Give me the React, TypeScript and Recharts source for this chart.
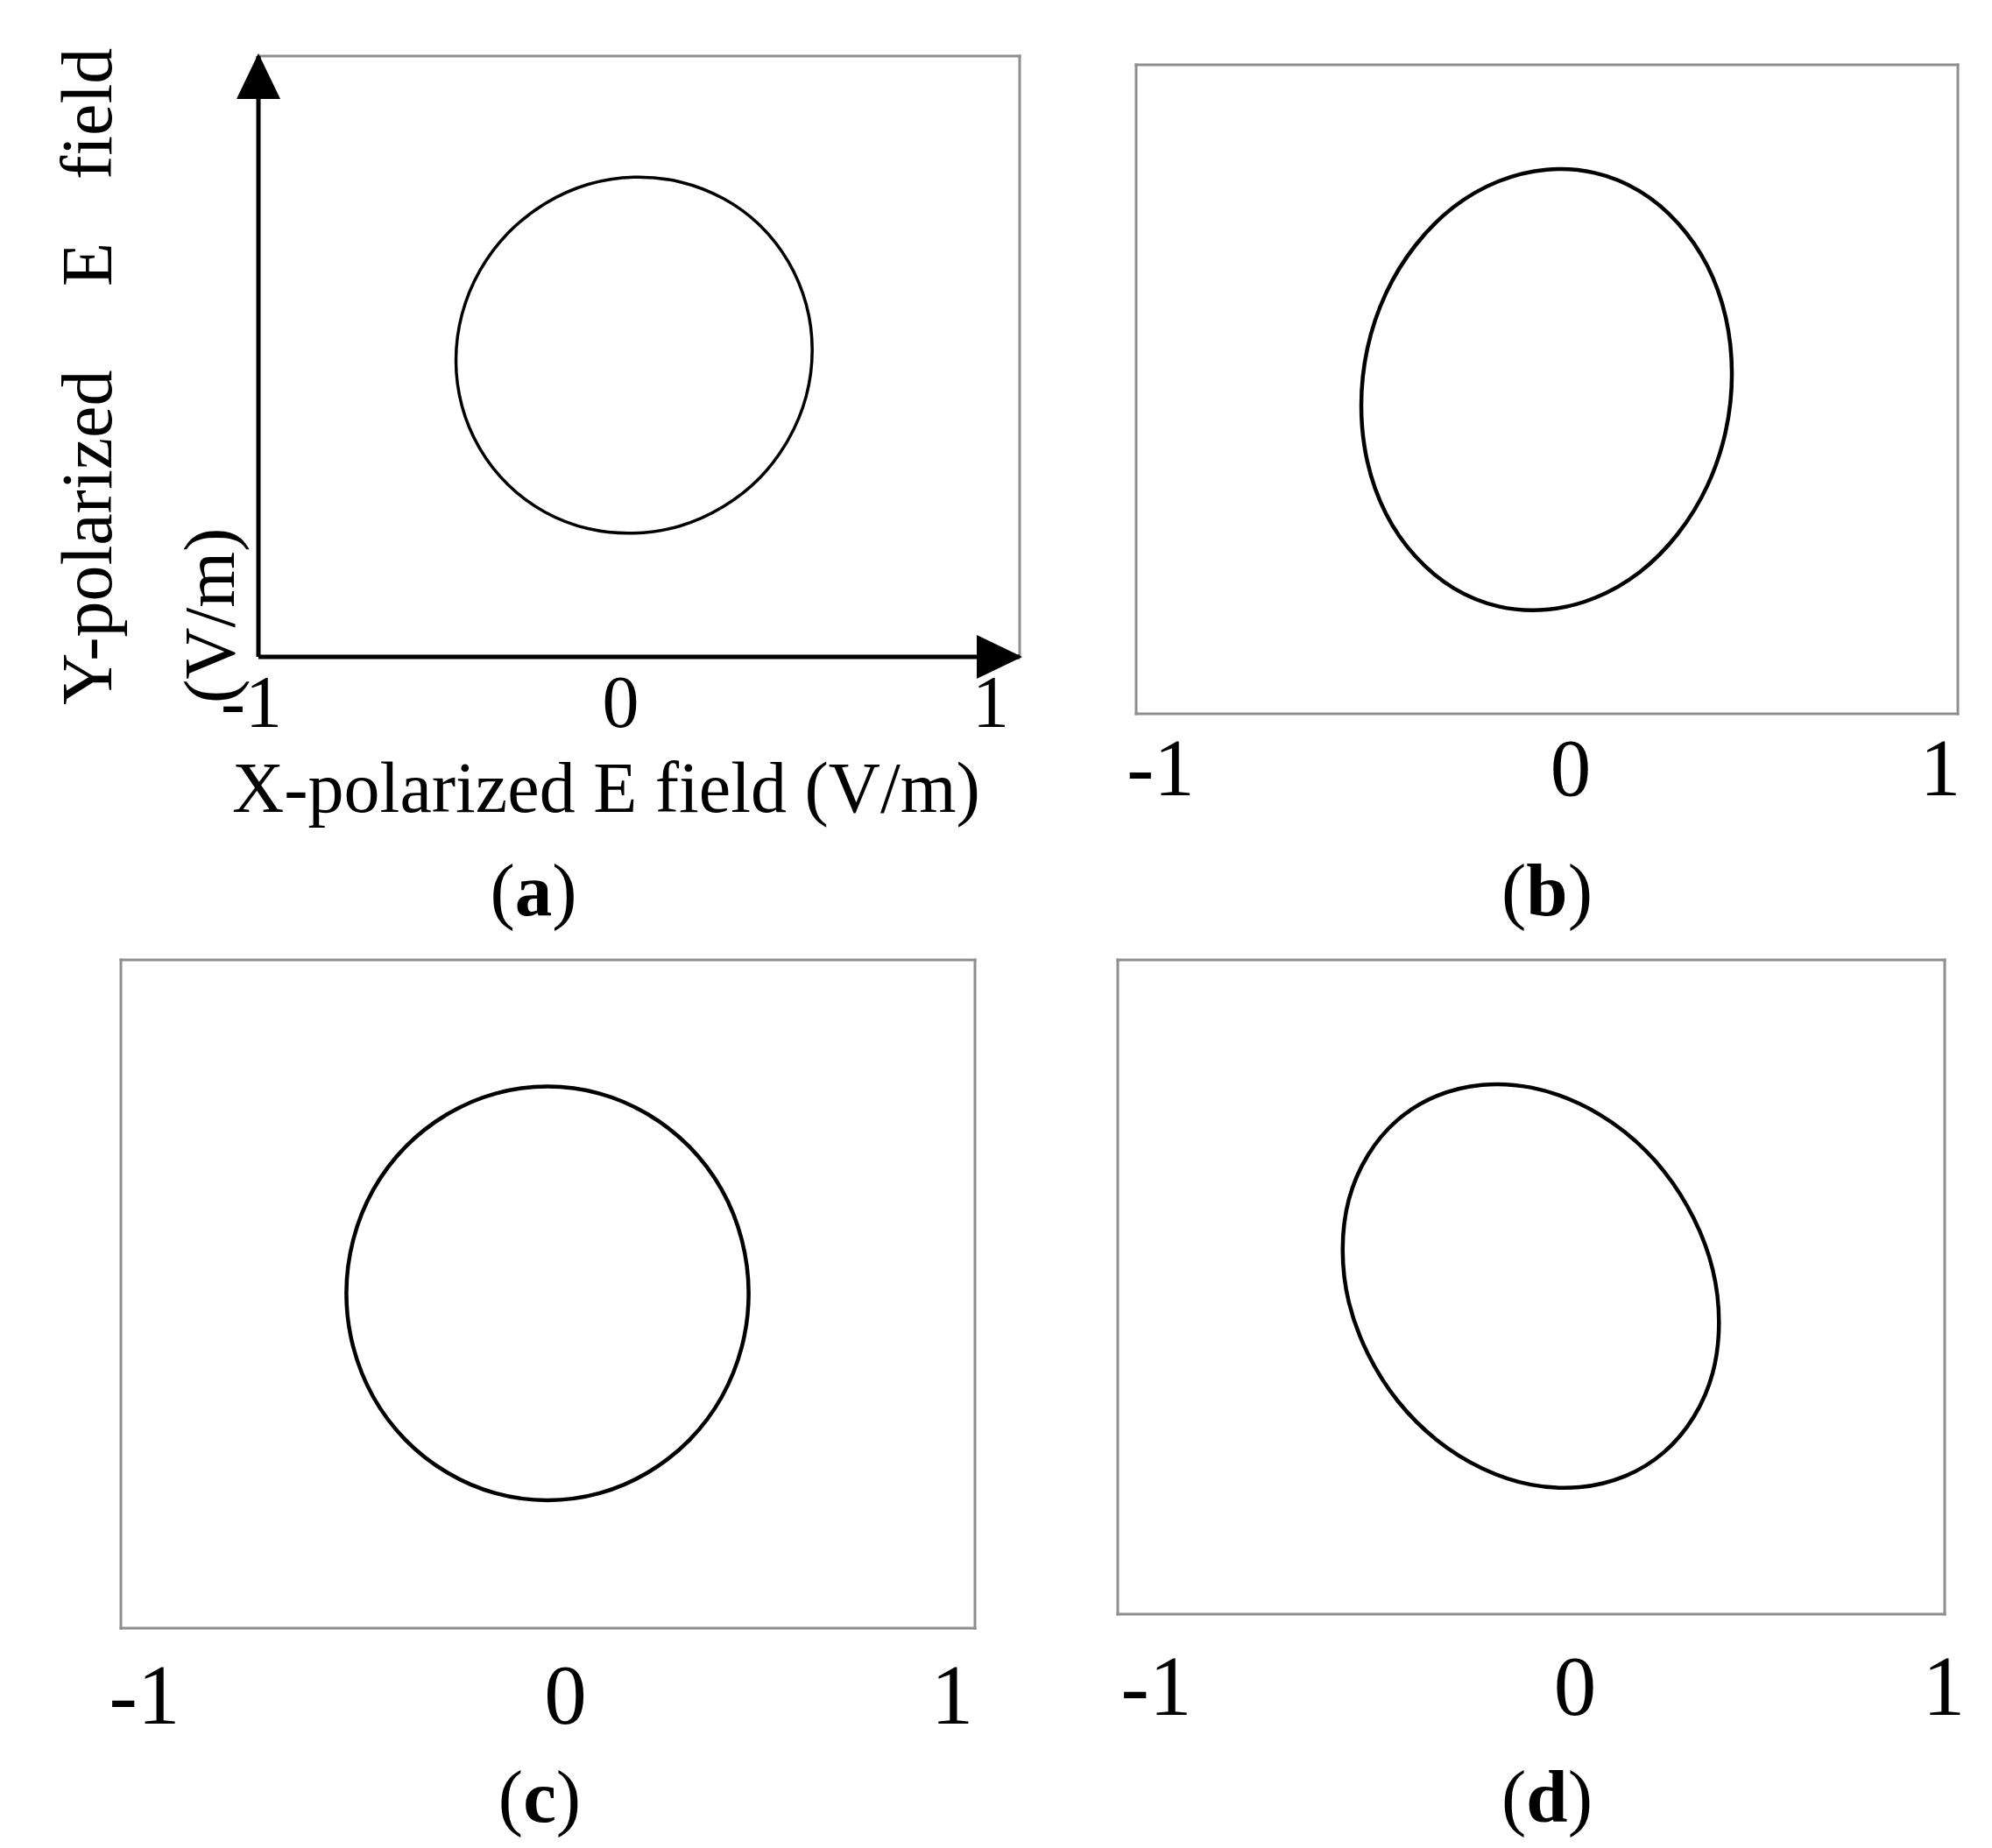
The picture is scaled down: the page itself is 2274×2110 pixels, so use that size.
import React from "react";
import { LineChart, Line, XAxis, YAxis } from "recharts";

type Pt = { x: number; y: number };

// tick labels on the x axis, and the single mid tick on the frame
const xTicks = [-1, 0, 1];
const midTick = [0];

// (a) near-circular trace
const ellipseA: Pt[] = [
  { x: -0.013, y: 0.597 },
  { x: 0.108, y: 0.581 },
  { x: 0.221, y: 0.526 },
  { x: 0.318, y: 0.436 },
  { x: 0.392, y: 0.316 },
  { x: 0.439, y: 0.174 },
  { x: 0.455, y: 0.022 },
  { x: 0.439, y: -0.133 },
  { x: 0.392, y: -0.277 },
  { x: 0.318, y: -0.403 },
  { x: 0.221, y: -0.5 },
  { x: 0.108, y: -0.564 },
  { x: -0.013, y: -0.588 },
  { x: -0.134, y: -0.573 },
  { x: -0.247, y: -0.518 },
  { x: -0.344, y: -0.427 },
  { x: -0.418, y: -0.307 },
  { x: -0.465, y: -0.166 },
  { x: -0.481, y: -0.013 },
  { x: -0.465, y: 0.141 },
  { x: -0.418, y: 0.286 },
  { x: -0.344, y: 0.411 },
  { x: -0.247, y: 0.509 },
  { x: -0.134, y: 0.573 },
];

// (b) ellipse, top leaning right
const ellipseB: Pt[] = [
  { x: -0.001, y: 0.677 },
  { x: 0.116, y: 0.667 },
  { x: 0.225, y: 0.611 },
  { x: 0.318, y: 0.513 },
  { x: 0.39, y: 0.381 },
  { x: 0.435, y: 0.222 },
  { x: 0.45, y: 0.048 },
  { x: 0.435, y: -0.129 },
  { x: 0.39, y: -0.298 },
  { x: 0.318, y: -0.446 },
  { x: 0.225, y: -0.564 },
  { x: 0.116, y: -0.643 },
  { x: -0.001, y: -0.679 },
  { x: -0.118, y: -0.669 },
  { x: -0.227, y: -0.613 },
  { x: -0.32, y: -0.515 },
  { x: -0.392, y: -0.383 },
  { x: -0.437, y: -0.224 },
  { x: -0.452, y: -0.05 },
  { x: -0.437, y: 0.127 },
  { x: -0.392, y: 0.296 },
  { x: -0.32, y: 0.444 },
  { x: -0.227, y: 0.562 },
  { x: -0.118, y: 0.641 },
];

// (c) circle
const ellipseC: Pt[] = [
  { x: -0.001, y: 0.621 },
  { x: 0.121, y: 0.6 },
  { x: 0.234, y: 0.538 },
  { x: 0.332, y: 0.44 },
  { x: 0.407, y: 0.312 },
  { x: 0.454, y: 0.162 },
  { x: 0.47, y: 0.002 },
  { x: 0.454, y: -0.158 },
  { x: 0.407, y: -0.308 },
  { x: 0.332, y: -0.436 },
  { x: 0.234, y: -0.534 },
  { x: 0.121, y: -0.596 },
  { x: -0.001, y: -0.617 },
  { x: -0.123, y: -0.596 },
  { x: -0.236, y: -0.534 },
  { x: -0.334, y: -0.436 },
  { x: -0.409, y: -0.308 },
  { x: -0.456, y: -0.158 },
  { x: -0.472, y: 0.002 },
  { x: -0.456, y: 0.162 },
  { x: -0.409, y: 0.312 },
  { x: -0.334, y: 0.44 },
  { x: -0.236, y: 0.538 },
  { x: -0.123, y: 0.6 },
];

// (d) ellipse, top leaning left
const ellipseD: Pt[] = [
  { x: -0.001, y: 0.61 },
  { x: 0.117, y: 0.56 },
  { x: 0.227, y: 0.473 },
  { x: 0.321, y: 0.354 },
  { x: 0.393, y: 0.21 },
  { x: 0.439, y: 0.053 },
  { x: 0.454, y: -0.108 },
  { x: 0.439, y: -0.262 },
  { x: 0.393, y: -0.397 },
  { x: 0.321, y: -0.505 },
  { x: 0.227, y: -0.578 },
  { x: 0.117, y: -0.612 },
  { x: -0.001, y: -0.604 },
  { x: -0.119, y: -0.554 },
  { x: -0.229, y: -0.467 },
  { x: -0.323, y: -0.348 },
  { x: -0.395, y: -0.204 },
  { x: -0.441, y: -0.047 },
  { x: -0.456, y: 0.114 },
  { x: -0.441, y: 0.268 },
  { x: -0.395, y: 0.403 },
  { x: -0.323, y: 0.511 },
  { x: -0.229, y: 0.584 },
  { x: -0.119, y: 0.618 },
];

const xTitle = "X-polarized E field (V/m)";
const yTitleWords = ["Y-polarized", "E", "field"];
const yTitleUnit = "(V/m)";

const GRAY = "#8e8e8e";
const SERIF = "'Liberation Serif', 'Times New Roman', serif";

// closed Catmull-Rom curve, so the trace has no seam where it starts and ends
const closedSmooth = (context: any) => {
  let pts: [number, number][] = [];
  return {
    areaStart() {},
    areaEnd() {},
    lineStart() {
      pts = [];
    },
    point(x: number, y: number) {
      pts.push([x, y]);
    },
    lineEnd() {
      const n = pts.length;
      if (!n) return;
      context.moveTo(pts[0][0], pts[0][1]);
      for (let i = 0; i < n; i++) {
        const p0 = pts[(i - 1 + n) % n];
        const p1 = pts[i];
        const p2 = pts[(i + 1) % n];
        const p3 = pts[(i + 2) % n];
        context.bezierCurveTo(
          p1[0] + (p2[0] - p0[0]) / 6,
          p1[1] + (p2[1] - p0[1]) / 6,
          p2[0] - (p3[0] - p1[0]) / 6,
          p2[1] - (p3[1] - p1[1]) / 6,
          p2[0],
          p2[1]
        );
      }
      context.closePath();
    },
  };
};

type Box = { left: number; top: number; width: number; height: number };
type Frame = { left: number; top: number; right: number; bottom: number };

interface PanelProps {
  data: Pt[];
  box: Box;
  frame: Frame;
  tickFont: number;
  tickBase: number;
  tickShift: number[];
  lineWidth: number;
  arrows?: boolean;
}

function Panel({ data, box, frame, tickFont, tickBase, tickShift, lineWidth, arrows }: PanelProps) {
  // mirrored axes take no room; the bottom label axis takes 1px
  const margin = {
    left: frame.left - box.left,
    top: frame.top - box.top,
    right: box.left + box.width - frame.right,
    bottom: box.top + box.height - frame.bottom - 1,
  };
  const frameLine = { stroke: GRAY, strokeWidth: 3, strokeLinecap: "square" as const };
  const tickLine = { stroke: GRAY, strokeWidth: 2 };

  const renderTick = (props: any) => {
    const i = xTicks.indexOf(props.payload.value);
    return (
      <text
        x={props.x + tickShift[i]}
        y={props.y + tickBase}
        textAnchor="middle"
        fontSize={tickFont}
        fontFamily={SERIF}
        fill="#000"
      >
        {props.payload.value}
      </text>
    );
  };

  return (
    <div style={{ position: "absolute", left: box.left, top: box.top }}>
      <LineChart width={box.width} height={box.height} data={data} margin={margin}>
        <defs>
          <marker
            id="arrowHead"
            viewBox="0 0 52 50"
            markerUnits="userSpaceOnUse"
            markerWidth={52}
            markerHeight={50}
            refX={49}
            refY={25}
            orient="auto-start-reverse"
          >
            <path d="M0,0 L52,25 L0,50 Z" fill="#000" />
          </marker>
        </defs>
        <XAxis
          xAxisId="top"
          orientation="top"
          dataKey="x"
          type="number"
          domain={[-1, 1]}
          ticks={midTick}
          mirror
          tick={false}
          tickSize={8}
          tickLine={tickLine}
          axisLine={frameLine}
          height={1}
          allowDataOverflow
        />
        <XAxis
          xAxisId="inner"
          orientation="bottom"
          dataKey="x"
          type="number"
          domain={[-1, 1]}
          ticks={midTick}
          mirror
          tick={false}
          tickSize={8}
          tickLine={tickLine}
          axisLine={false}
          height={1}
          allowDataOverflow
        />
        <YAxis
          yAxisId="right"
          orientation="right"
          dataKey="y"
          type="number"
          domain={[-1, 1]}
          ticks={midTick}
          mirror
          tick={false}
          tickSize={8}
          tickLine={tickLine}
          axisLine={frameLine}
          width={1}
          allowDataOverflow
        />
        <XAxis
          xAxisId="bottom"
          dataKey="x"
          type="number"
          domain={[-1, 1]}
          ticks={xTicks}
          tickLine={false}
          tickSize={0}
          tickMargin={0}
          tick={renderTick}
          axisLine={
            arrows
              ? { stroke: "#000", strokeWidth: 5, markerEnd: "url(#arrowHead)" }
              : frameLine
          }
          height={1}
          allowDataOverflow
        />
        <YAxis
          yAxisId="left"
          dataKey="y"
          type="number"
          domain={[-1, 1]}
          ticks={midTick}
          mirror
          tick={false}
          tickSize={arrows ? 0 : 8}
          tickLine={arrows ? false : tickLine}
          axisLine={
            arrows
              ? { stroke: "#000", strokeWidth: 5, markerStart: "url(#arrowHead)" }
              : frameLine
          }
          width={1}
          allowDataOverflow
        />
        <Line
          xAxisId="bottom"
          yAxisId="left"
          dataKey="y"
          type={closedSmooth as any}
          stroke="#000"
          strokeWidth={lineWidth}
          dot={false}
          isAnimationActive={false}
        />
      </LineChart>
    </div>
  );
}

function Caption({ x, y, letter }: { x: number; y: number; letter: string }) {
  return (
    <text x={x} y={y} textAnchor="middle" fontSize={85} fontFamily={SERIF} fill="#000">
      (<tspan fontWeight="bold">{letter}</tspan>)
    </text>
  );
}

export default function App() {
  return (
    <div
      style={{
        position: "absolute",
        left: 0,
        top: 0,
        width: 2274,
        height: 2110,
        background: "#fff",
        overflow: "hidden",
      }}
    >
      <Panel
        data={ellipseA}
        box={{ left: 0, top: 0, width: 1220, height: 1060 }}
        frame={{ left: 295, top: 64, right: 1164, bottom: 750 }}
        tickFont={84}
        tickBase={80}
        tickShift={[-8, -21, -33]}
        lineWidth={3.5}
        arrows
      />
      <Panel
        data={ellipseB}
        box={{ left: 1220, top: 0, width: 1054, height: 1060 }}
        frame={{ left: 1297, top: 74, right: 2235, bottom: 815 }}
        tickFont={93}
        tickBase={93}
        tickShift={[28, 27, -20]}
        lineWidth={4.5}
      />
      <Panel
        data={ellipseC}
        box={{ left: 0, top: 1060, width: 1220, height: 1050 }}
        frame={{ left: 138, top: 1096, right: 1113, bottom: 1859 }}
        tickFont={97}
        tickBase={109}
        tickShift={[27, 20, -26]}
        lineWidth={4.5}
      />
      <Panel
        data={ellipseD}
        box={{ left: 1220, top: 1060, width: 1054, height: 1050 }}
        frame={{ left: 1276, top: 1096, right: 2220, bottom: 1843 }}
        tickFont={97}
        tickBase={115}
        tickShift={[44, 50, -1]}
        lineWidth={4.5}
      />
      <svg
        width={2274}
        height={2110}
        style={{ position: "absolute", left: 0, top: 0, pointerEvents: "none" }}
      >
        <text x={692} y={927} textAnchor="middle" fontSize={82} fontFamily={SERIF} fill="#000">
          {xTitle}
        </text>
        <g transform="translate(127, 805) rotate(-90)" fontSize={82} fontFamily={SERIF} fill="#000">
          <text x={0} y={0}>{yTitleWords[0]}</text>
          <text x={478}>{yTitleWords[1]}</text>
          <text x={600}>{yTitleWords[2]}</text>
        </g>
        <g transform="translate(267, 803) rotate(-90)" fontSize={82} fontFamily={SERIF} fill="#000">
          <text x={0} y={0}>{yTitleUnit}</text>
        </g>
        <Caption x={609} y={1045} letter="a" />
        <Caption x={1766} y={1045} letter="b" />
        <Caption x={616} y={2080} letter="c" />
        <Caption x={1766} y={2080} letter="d" />
      </svg>
    </div>
  );
}
